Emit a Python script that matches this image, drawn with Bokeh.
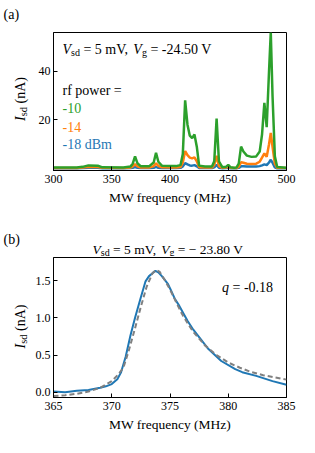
import math
from bokeh.plotting import figure
from bokeh.models import Label, FixedTicker, Range1d, NumeralTickFormatter
from bokeh.layouts import column, row
from bokeh.embed import file_html
from bokeh.resources import INLINE

# ---------------- Panel (a) data ----------------
freq_a = [300, 320, 325, 330, 338, 342, 360, 366, 368, 370, 372, 375, 382, 386, 388,
          390, 393, 405, 409, 411, 413, 415, 417, 419, 421, 423, 425, 430, 436, 438,
          440, 442, 445, 448, 450, 452, 455, 457, 459, 461, 463, 466, 470, 474, 477,
          479, 481, 483, 485, 486.5, 488, 490, 492, 500]
i_m10 = [0.4, 0.4, 0.7, 1.3, 1.2, 0.5, 0.4, 0.8, 2.0, 5.0, 2.2, 0.9, 0.9, 2.5, 6.5,
         2.8, 1.2, 1.0, 1.4, 6.0, 28.0, 18.0, 13.5, 12.5, 14.0, 9.0, 1.2, 0.8, 0.8, 3.0,
         20.5, 3.0, 0.5, 0.7, 1.5, 0.5, 0.3, 0.4, 2.0, 9.0, 7.0, 5.3, 4.8, 5.0, 7.0,
         14.0, 27.0, 17.0, 40.0, 56.0, 30.0, 5.0, 0.6, 0.3]
i_m14 = [0.2, 0.2, 0.4, 0.7, 0.6, 0.3, 0.2, 0.4, 0.9, 1.8, 0.9, 0.4, 0.4, 1.0, 2.2,
         1.1, 0.5, 0.4, 0.6, 2.5, 7.2, 5.5, 4.5, 4.2, 4.6, 3.0, 0.5, 0.4, 0.4, 1.5,
         5.2, 1.0, 0.3, 0.4, 0.8, 0.3, 0.2, 0.2, 0.8, 2.6, 2.4, 2.0, 1.9, 2.0, 2.8,
         4.5, 6.2, 4.8, 10.0, 14.6, 9.0, 2.0, 0.3, 0.2]
i_m18 = [0.1, 0.1, 0.2, 0.3, 0.3, 0.1, 0.1, 0.2, 0.3, 0.6, 0.3, 0.2, 0.2, 0.3, 0.7,
         0.3, 0.2, 0.2, 0.3, 0.9, 2.2, 1.7, 1.3, 1.2, 1.4, 0.9, 0.2, 0.2, 0.2, 0.5,
         1.5, 0.3, 0.1, 0.2, 0.3, 0.1, 0.1, 0.1, 0.3, 0.9, 0.9, 0.8, 0.8, 0.8, 1.0,
         1.3, 1.7, 1.4, 2.5, 3.6, 2.4, 0.5, 0.1, 0.1]
power_labels = ["-10", "-14", "-18 dBm"]
xticks_a = [300, 350, 400, 450, 500]
yticks_a = [20, 40]

# ---------------- Panel (b) data ----------------
freq_b = [365, 366, 367, 368, 369, 369.5, 370, 370.5, 370.8, 371.2, 371.6, 372, 372.45,
          372.9, 373.2, 373.5, 373.75, 374.0, 374.3, 374.5, 374.8, 375.05, 375.4, 375.8,
          376.5, 377, 377.4, 378.3, 379.4, 380.6, 381.2, 382.4, 383.8, 385]
i_b = [0.01, 0.0, 0.02, 0.03, 0.06, 0.08, 0.11, 0.18, 0.27, 0.48, 0.76, 1.0, 1.25,
       1.49, 1.56, 1.60, 1.63, 1.61, 1.56, 1.52, 1.46, 1.38, 1.26, 1.16,
       0.96, 0.84, 0.76, 0.58, 0.42, 0.31, 0.27, 0.22, 0.15, 0.10]
freq_fit = [365, 366, 367, 368, 369, 370, 370.5, 371, 371.5, 372, 372.5, 373, 373.5,
            373.8, 374.1, 374.5, 375, 375.5, 376, 376.5, 377, 377.5, 378, 379, 380,
            381, 382, 383, 384, 385]
i_fit = [-0.05, -0.04, -0.02, 0.01, 0.06, 0.15, 0.23, 0.33, 0.58, 0.86, 1.15, 1.42, 1.60,
         1.64, 1.62, 1.52, 1.38, 1.22, 1.06, 0.93, 0.81, 0.72, 0.63, 0.50, 0.40,
         0.33, 0.27, 0.23, 0.20, 0.17]
xticks_b = [365, 370, 375, 380, 385]
yticks_b = [0.0, 0.5, 1.0, 1.5]

FONT = "Liberation Serif"
GREEN, ORANGE, BLUE = "#2ca02c", "#ff7f0e", "#1f77b4"

# Times/Liberation Serif advance widths (em) for laying out mixed-style runs
ADV = {' ': 0.25, '=': 0.564, '-': 0.333, '\u2212': 0.564, '.': 0.25, ',': 0.25,
       '(': 0.333, ')': 0.333, 'm': 0.778, 'V': 0.722, 's': 0.389, 'd': 0.5,
       'g': 0.5, 'n': 0.5, 'A': 0.722, 'q': 0.5, 'I': 0.333}
ADV_IT = {'V': 0.611, 'I': 0.333, 'q': 0.5}


def run_width(text, size, italic):
    tot = 0.0
    for ch in text:
        if italic and ch in ADV_IT:
            tot += ADV_IT[ch]
        elif ch.isdigit():
            tot += 0.5
        else:
            tot += ADV.get(ch, 0.5)
    return tot * size


def style(p):
    p.outline_line_color = "black"
    p.outline_line_width = 1
    p.outline_line_alpha = 1
    p.grid.visible = False
    p.background_fill_color = "white"
    p.border_fill_color = "white"
    for ax in (p.xaxis[0], p.yaxis[0]):
        ax.axis_line_color = "black"
        ax.major_tick_line_color = "black"
        ax.major_tick_in = 4
        ax.major_tick_out = 0
        ax.minor_tick_line_color = None
        ax.major_label_text_font = FONT
        ax.major_label_text_font_size = "12px"
        ax.major_label_text_color = "black"
        ax.major_label_standoff = 4
        ax.axis_label_text_font = FONT
        ax.axis_label_text_font_size = "13.5px"
        ax.axis_label_text_font_style = "normal"
        ax.axis_label_text_color = "black"
        ax.axis_label_standoff = 4
    p.yaxis[0].major_label_standoff = 3


def put(p, fl, fb, px, py, text, size=14, italic=False, color="black", angle=0.0):
    p.add_layout(Label(x=px - fl, y=fb - py, x_units="screen", y_units="screen",
                       text=text, text_font=FONT, text_font_size=f"{size}px",
                       text_font_style="italic" if italic else "normal",
                       text_color=color, text_baseline="alphabetic",
                       text_align="left", angle=angle))


def put_run(p, fl, fb, px, py, pieces, vertical=False):
    """pieces: (text, size, italic, shift) laid out one after another."""
    pos = 0.0
    for text, size, italic, shift in pieces:
        lead = len(text) - len(text.lstrip(' '))
        off = pos + lead * ADV[' '] * size
        if vertical:
            put(p, fl, fb, px + shift, py - off, text.strip(), size, italic,
                angle=math.pi / 2)
        else:
            put(p, fl, fb, px + off, py + shift, text.strip(), size, italic)
        pos += run_width(text, size, italic)


def text_fig(w, h):
    f = figure(width=w, height=h, x_range=Range1d(0, w), y_range=Range1d(0, h),
               x_axis_location=None, y_axis_location=None, min_border=0,
               frame_align=False, output_backend="svg", toolbar_location=None)
    f.grid.visible = False
    f.outline_line_color = None
    f.background_fill_color = "white"
    f.border_fill_color = "white"
    return f


LEFT_W, PW = 30, 285
H1, HT, H2 = 215, 41, 188
Y_T = H1              # top of title strip (page px)
Y_2 = H1 + HT         # top of row 2 (page px)
ylab = [("I", 14, True, 0), ("sd", 10.5, False, 3), (" (nA)", 14, False, 0)]

# ---------------- Row 1: left strip + panel (a) ----------------
left1 = text_fig(LEFT_W, H1)
put(left1, 0, H1, 3, 14, "(a)")
put_run(left1, 0, H1, 20, 120.5, ylab, vertical=True)

p1 = figure(width=PW, height=H1, min_border_left=23, min_border_right=29,
            min_border_top=32, min_border_bottom=45, frame_align=False,
            x_range=Range1d(300, 500), y_range=Range1d(-0.8, 55.9),
            output_backend="svg", toolbar_location=None)
style(p1)
p1.xaxis.ticker = FixedTicker(ticks=xticks_a)
p1.yaxis.ticker = FixedTicker(ticks=yticks_a)
p1.xaxis.axis_label = "MW frequency (MHz)"
p1.line(freq_a, i_m18, line_color=BLUE, line_width=2.5)
p1.line(freq_a, i_m14, line_color=ORANGE, line_width=2.5)
p1.line(freq_a, i_m10, line_color=GREEN, line_width=2.5)

FL1, FB1 = LEFT_W + 23, H1 - 45
put_run(p1, FL1, FB1, 62, 48.5,
        [("V", 14, True, 0), ("sd", 10, False, 3), (" = 5 mV, ", 14, False, 0),
         ("V", 14, True, 0), ("g", 10, False, 3), (" = -24.50 V", 14, False, 0)])
put(p1, FL1, FB1, 62, 89.5, "rf power =")
for t, c, yy in zip(power_labels, [GREEN, ORANGE, BLUE], [107.5, 126, 144]):
    put(p1, FL1, FB1, 62, yy, t, color=c)

# ---------------- Title strip: "(b)" and panel (b) title ----------------
tstrip = text_fig(LEFT_W + PW, HT)
TB = Y_T + HT
put(tstrip, 0, TB, 3, 238.7, "(b)")
put_run(tstrip, 0, TB, 92, 248.5,
        [("V", 13.5, True, 0), ("sd", 10, False, 3), (" = 5 mV, ", 13.5, False, 0),
         ("V", 13.5, True, 0), ("g", 10, False, 3), (" = \u2212 23.80 V", 13.5, False, 0)])

# ---------------- Row 2: left strip + panel (b) ----------------
left2 = text_fig(LEFT_W, H2)
put_run(left2, 0, Y_2 + H2, 20, 348, ylab, vertical=True)

p2 = figure(width=PW, height=H2, min_border_left=23, min_border_right=29,
            min_border_top=1, min_border_bottom=47, frame_align=False,
            x_range=Range1d(365, 385), y_range=Range1d(-0.07, 1.81),
            output_backend="svg", toolbar_location=None)
style(p2)
p2.xaxis.ticker = FixedTicker(ticks=xticks_b)
p2.yaxis.ticker = FixedTicker(ticks=yticks_b)
p2.yaxis.formatter = NumeralTickFormatter(format="0.0")
p2.xaxis.axis_label = "MW frequency (MHz)"
p2.line(freq_b, i_b, line_color=BLUE, line_width=2)
p2.line(freq_fit, i_fit, line_color="#808080", line_width=2, line_dash="5 3")

FL2, FB2 = LEFT_W + 23, Y_2 + H2 - 47
put_run(p2, FL2, FB2, 221.5, 287, [("q", 14, True, 0), (" = -0.18", 14, False, 0)])

layout = column(row(left1, p1, spacing=0), tstrip, row(left2, p2, spacing=0), spacing=0)
open("out.html", "w").write(file_html(layout, INLINE))
